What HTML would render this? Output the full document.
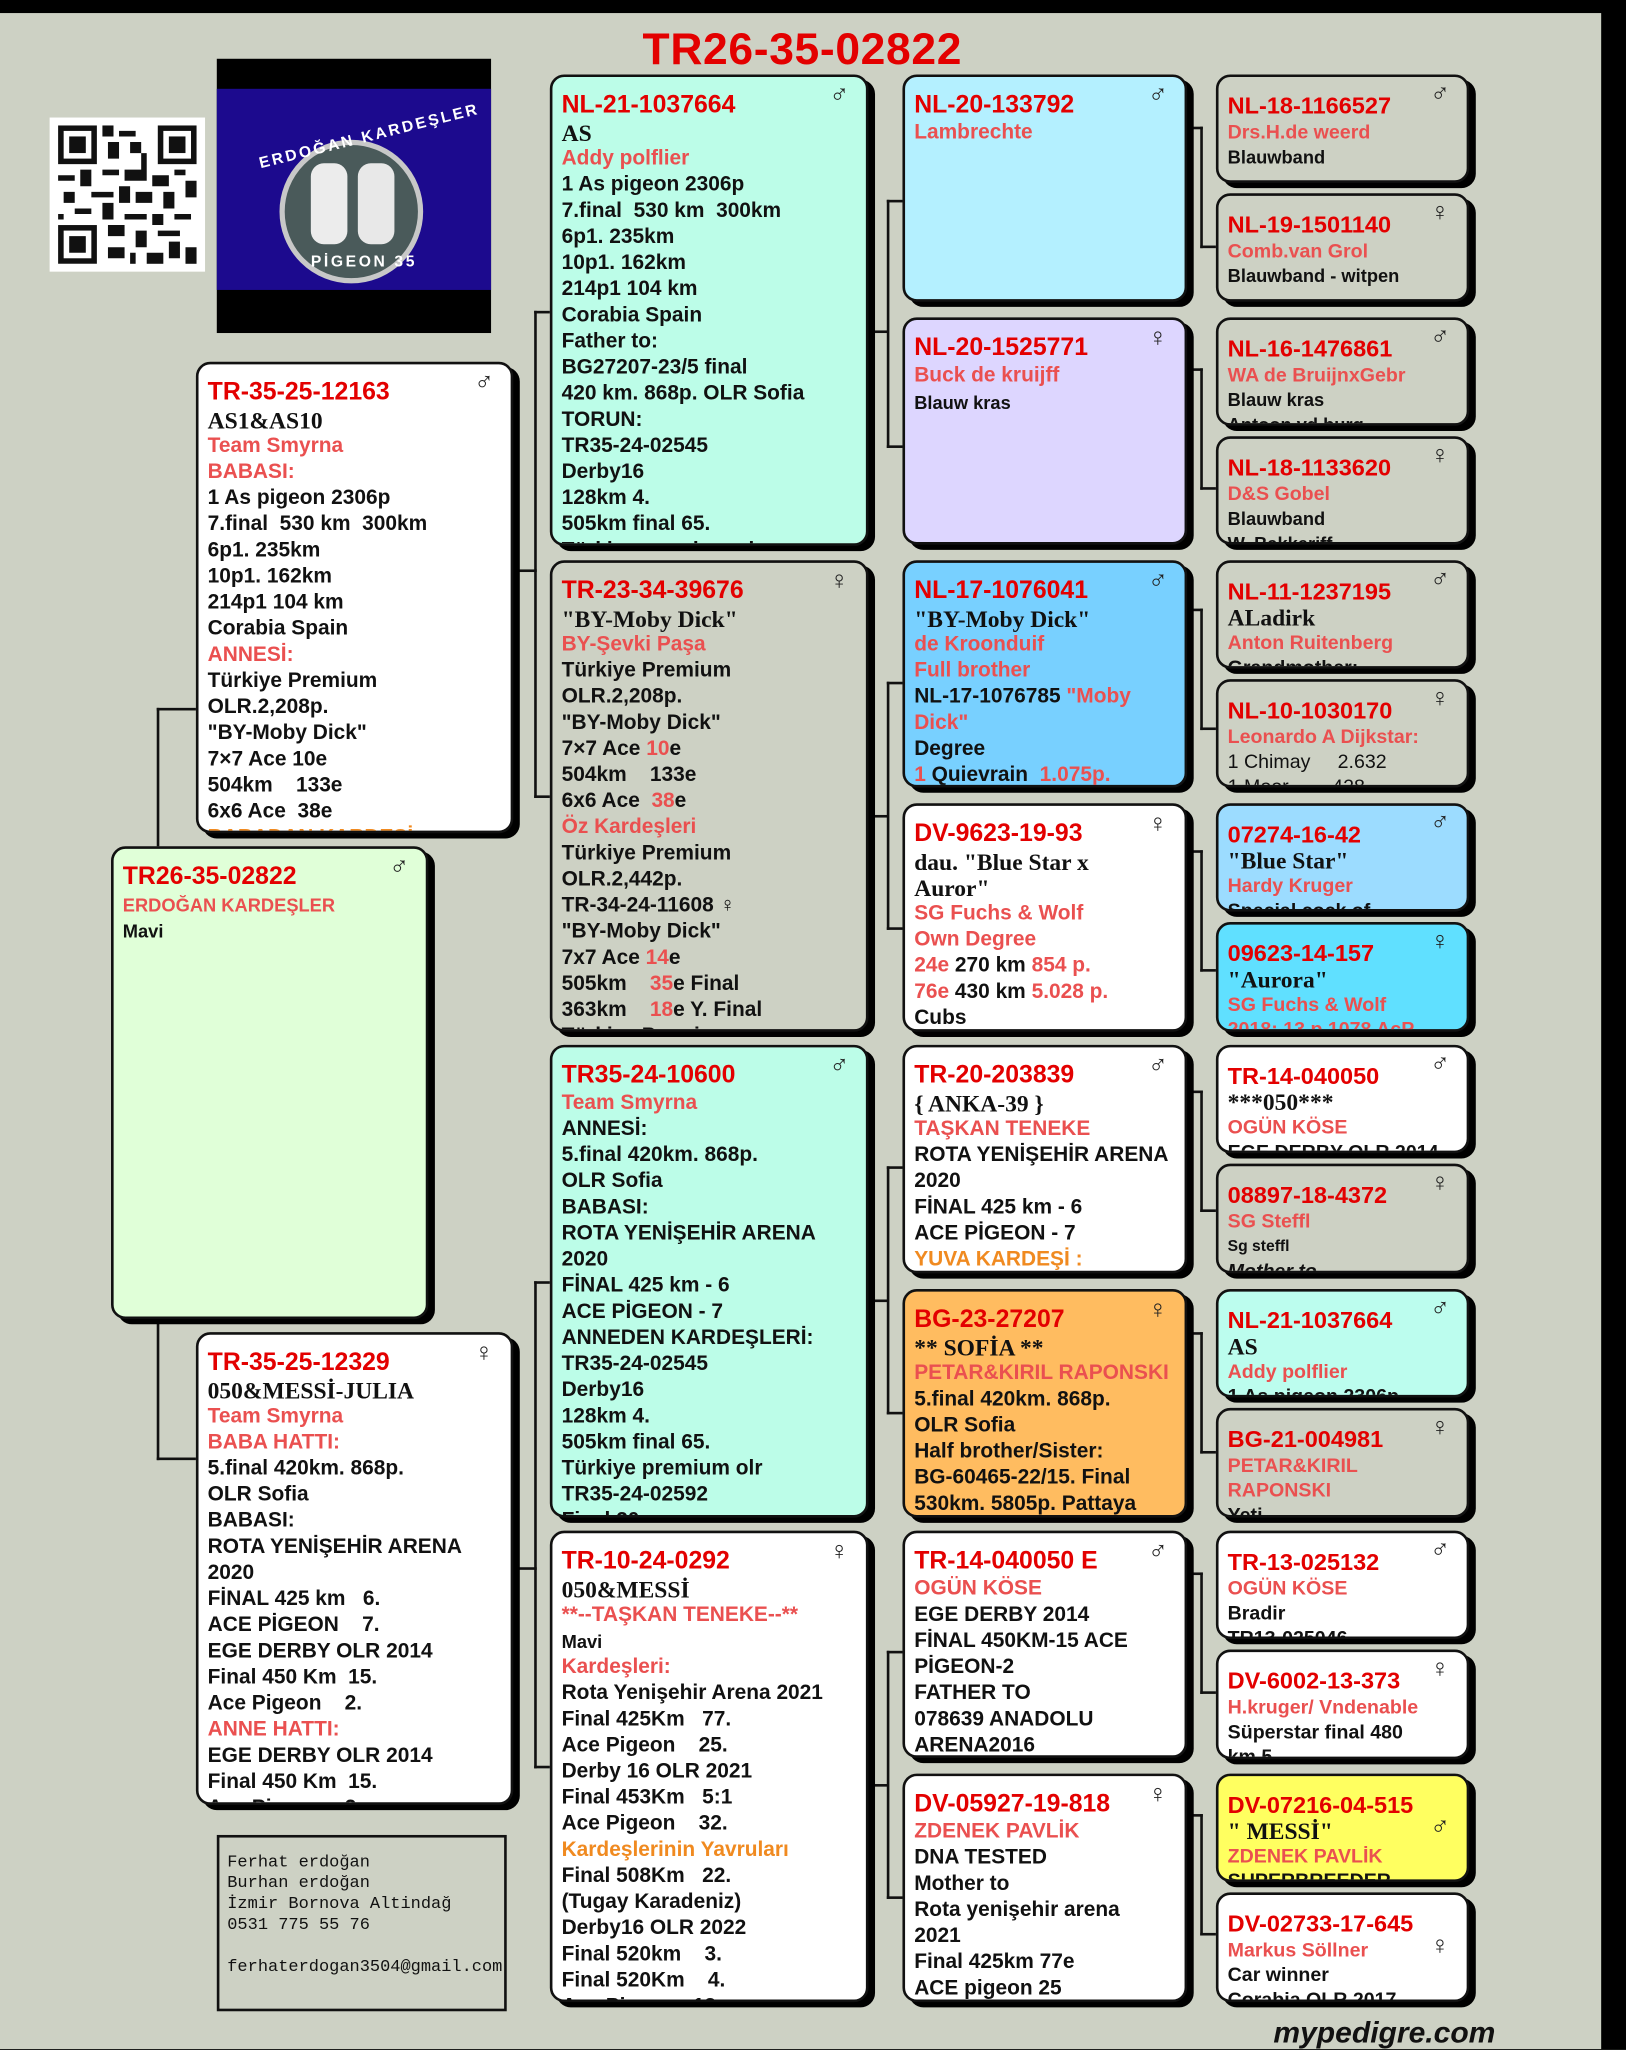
<!DOCTYPE html>
<html><head><meta charset="utf-8"><style>
*{margin:0;padding:0;box-sizing:border-box}
html,body{width:1626px;height:2048px;overflow:hidden;background:#000}
#w{position:absolute;left:0;top:0;width:1245px;height:1569px;transform:scale(1.30602);transform-origin:0 0;background:#cdd1c4;font-family:"Liberation Sans","DejaVu Sans",sans-serif;font-weight:bold;color:#111}
.topbar{position:absolute;left:0;top:0;width:1245px;height:10px;background:#000}
.rbar{position:absolute;left:1226px;top:0;width:19px;height:1569px;background:#000}
.b{position:absolute;border:2px solid #111;border-radius:11px;box-shadow:5px 4px 0 #000;overflow:hidden;padding:10px 6px 0 7px;font-size:16px;line-height:20px}
.b .id{color:#e30000;font-size:19px;line-height:22px;margin-top:1px}
.b .sx{position:absolute;right:13px;top:4px;font-size:20px;font-weight:normal;color:#222}
.r{color:#ea5050}
.o{color:#f08a20}
.s{font-family:"Liberation Serif","DejaVu Serif",serif;font-size:18px}
.sm{font-size:14px}
.g4{padding-right:14px}
.g5{font-size:15px;line-height:19px;padding-top:11px}
.g5 .id{font-size:18px;line-height:21px}
.ln{position:absolute;background:#111}
</style></head><body><div id="w">
<div class="topbar"></div><div class="rbar"></div>

<div style="position:absolute;left:492px;top:19px;font-size:34px;color:#e30000;letter-spacing:0.5px">TR26-35-02822</div>

<!-- QR -->
<div style="position:absolute;left:38px;top:90px;width:119px;height:118px;background:#fff;padding:6px">
<svg width="107" height="106" viewBox="0 0 25 25">
<rect width="25" height="25" fill="#fff"/>
<g fill="#111">
<rect x="0" y="0" width="7" height="7"/><rect x="1" y="1" width="5" height="5" fill="#fff"/><rect x="2" y="2" width="3" height="3"/>
<rect x="18" y="0" width="7" height="7"/><rect x="19" y="1" width="5" height="5" fill="#fff"/><rect x="20" y="2" width="3" height="3"/>
<rect x="0" y="18" width="7" height="7"/><rect x="1" y="19" width="5" height="5" fill="#fff"/><rect x="2" y="20" width="3" height="3"/>
<path d="M8 0h2v2h-2zM11 1h3v1h-3zM9 3h2v3h-2zM13 3h2v2h-2zM15 5h1v3h-1zM8 8h3v1h-3zM12 8h4v2h-4zM0 9h3v1h-3zM4 8h2v3h-2zM17 9h3v2h-3zM21 8h2v1h-2zM23 10h2v3h-2zM1 12h2v2h-2zM6 12h4v1h-4zM11 11h2v3h-2zM14 12h3v2h-3zM19 12h2v3h-2zM3 15h3v1h-3zM8 14h2v3h-2zM12 16h4v1h-4zM17 16h2v2h-2zM21 16h3v1h-3zM9 18h3v2h-3zM14 19h2v3h-2zM18 19h4v1h-4zM20 21h2v3h-2zM23 22h2v3h-2zM9 22h3v2h-3zM16 23h3v2h-3zM13 23h1v2h-1zM0 16h1v1h-1z"/>
</g></svg></div>

<!-- logo -->
<div style="position:absolute;left:166px;top:45px;width:210px;height:210px;background:#000">
<div style="position:absolute;left:0;top:23px;width:210px;height:154px;background:#1c0a8e"></div>
<div style="position:absolute;left:48px;top:62px;width:110px;height:110px;border-radius:50%;background:#4a5a5a;border:4px solid #c8c8c8"></div>
<div style="position:absolute;left:72px;top:80px;width:28px;height:62px;border-radius:10px;background:#ececec"></div>
<div style="position:absolute;left:108px;top:80px;width:28px;height:62px;border-radius:10px;background:#e8e8e8"></div>
<div style="position:absolute;left:30px;top:52px;color:#fff;font-size:12px;letter-spacing:2px;transform:rotate(-14deg)">ERDOĞAN KARDEŞLER</div>
<div style="position:absolute;left:72px;top:148px;color:#fff;font-size:12px;letter-spacing:2px">PİGEON 35</div>
</div>

<!-- connectors -->
<div class="ln" style="left:120px;top:542px;width:2px;height:106px"></div>
<div class="ln" style="left:120px;top:542px;width:30px;height:2px"></div>
<div class="ln" style="left:120px;top:1010px;width:2px;height:108px"></div>
<div class="ln" style="left:120px;top:1116px;width:30px;height:2px"></div>

<div class="ln" style="left:394px;top:436px;width:17px;height:2px"></div>
<div class="ln" style="left:409px;top:238px;width:2px;height:373px"></div>
<div class="ln" style="left:409px;top:238px;width:12px;height:2px"></div>
<div class="ln" style="left:409px;top:609px;width:12px;height:2px"></div>
<div class="ln" style="left:394px;top:1200px;width:17px;height:2px"></div>
<div class="ln" style="left:409px;top:981px;width:2px;height:373px"></div>
<div class="ln" style="left:409px;top:981px;width:12px;height:2px"></div>
<div class="ln" style="left:409px;top:1352px;width:12px;height:2px"></div>

<div class="ln" style="left:666px;top:253px;width:14px;height:2px"></div>
<div class="ln" style="left:679px;top:153px;width:2px;height:190px"></div>
<div class="ln" style="left:679px;top:153px;width:12px;height:2px"></div>
<div class="ln" style="left:679px;top:341px;width:12px;height:2px"></div>
<div class="ln" style="left:666px;top:624px;width:14px;height:2px"></div>
<div class="ln" style="left:679px;top:522px;width:2px;height:190px"></div>
<div class="ln" style="left:679px;top:522px;width:12px;height:2px"></div>
<div class="ln" style="left:679px;top:710px;width:12px;height:2px"></div>
<div class="ln" style="left:666px;top:995px;width:14px;height:2px"></div>
<div class="ln" style="left:679px;top:893px;width:2px;height:190px"></div>
<div class="ln" style="left:679px;top:893px;width:12px;height:2px"></div>
<div class="ln" style="left:679px;top:1081px;width:12px;height:2px"></div>
<div class="ln" style="left:666px;top:1366px;width:14px;height:2px"></div>
<div class="ln" style="left:679px;top:1264px;width:2px;height:190px"></div>
<div class="ln" style="left:679px;top:1264px;width:12px;height:2px"></div>
<div class="ln" style="left:679px;top:1452px;width:12px;height:2px"></div>

<div class="ln" style="left:909px;top:97px;width:12px;height:2px"></div><div class="ln" style="left:919px;top:97px;width:2px;height:93px"></div><div class="ln" style="left:919px;top:188px;width:12px;height:2px"></div>
<div class="ln" style="left:909px;top:282px;width:12px;height:2px"></div><div class="ln" style="left:919px;top:282px;width:2px;height:93px"></div><div class="ln" style="left:919px;top:373px;width:12px;height:2px"></div>
<div class="ln" style="left:909px;top:466px;width:12px;height:2px"></div><div class="ln" style="left:919px;top:466px;width:2px;height:93px"></div><div class="ln" style="left:919px;top:557px;width:12px;height:2px"></div>
<div class="ln" style="left:909px;top:651px;width:12px;height:2px"></div><div class="ln" style="left:919px;top:651px;width:2px;height:93px"></div><div class="ln" style="left:919px;top:742px;width:12px;height:2px"></div>
<div class="ln" style="left:909px;top:835px;width:12px;height:2px"></div><div class="ln" style="left:919px;top:835px;width:2px;height:93px"></div><div class="ln" style="left:919px;top:926px;width:12px;height:2px"></div>
<div class="ln" style="left:909px;top:1020px;width:12px;height:2px"></div><div class="ln" style="left:919px;top:1020px;width:2px;height:93px"></div><div class="ln" style="left:919px;top:1111px;width:12px;height:2px"></div>
<div class="ln" style="left:909px;top:1204px;width:12px;height:2px"></div><div class="ln" style="left:919px;top:1204px;width:2px;height:93px"></div><div class="ln" style="left:919px;top:1295px;width:12px;height:2px"></div>
<div class="ln" style="left:909px;top:1389px;width:12px;height:2px"></div><div class="ln" style="left:919px;top:1389px;width:2px;height:93px"></div><div class="ln" style="left:919px;top:1480px;width:12px;height:2px"></div>

<!-- gen1 -->
<div class="b" style="left:85px;top:648px;width:243px;height:362px;background:#e0ffd8">
<div class="sx">♂</div><div class="id">TR26-35-02822</div><div class="r sm">ERDOĞAN KARDEŞLER</div><div class="sm">Mavi</div></div>

<!-- gen2 -->
<div class="b" style="left:150px;top:277px;width:243px;height:361px;background:#fff">
<div class="sx">♂</div><div class="id">TR-35-25-12163</div><div class="s">AS1&amp;AS10</div><div class="r">Team Smyrna</div><div class="r">BABASI:</div>
<div>1 As pigeon 2306p</div><div>7.final&nbsp; 530 km&nbsp; 300km</div><div>6p1. 235km</div><div>10p1. 162km</div><div>214p1 104 km</div><div>Corabia Spain</div><div class="r">ANNESİ:</div><div>Türkiye Premium</div><div>OLR.2,208p.</div><div>"BY-Moby Dick"</div><div>7×7 Ace 10e</div><div>504km&nbsp;&nbsp;&nbsp; 133e</div><div>6x6 Ace&nbsp; 38e</div><div class="o">BABADAN KARDEŞİ</div></div>

<div class="b" style="left:150px;top:1020px;width:243px;height:362px;background:#fff">
<div class="sx">♀</div><div class="id">TR-35-25-12329</div><div class="s">050&amp;MESSİ-JULIA</div><div class="r">Team Smyrna</div><div class="r">BABA HATTI:</div>
<div>5.final 420km. 868p.</div><div>OLR Sofia</div><div>BABASI:</div><div>ROTA YENİŞEHİR ARENA</div><div>2020</div><div>FİNAL 425 km&nbsp;&nbsp; 6.</div><div>ACE PİGEON&nbsp;&nbsp;&nbsp; 7.</div><div>EGE DERBY OLR 2014</div><div>Final 450 Km&nbsp; 15.</div><div>Ace Pigeon&nbsp;&nbsp;&nbsp; 2.</div><div class="r">ANNE HATTI:</div><div>EGE DERBY OLR 2014</div><div>Final 450 Km&nbsp; 15.</div><div>Ace Pigeon&nbsp;&nbsp;&nbsp; 2.</div></div>

<!-- contact -->
<div style="position:absolute;left:166px;top:1405px;width:222px;height:135px;border:2px solid #111;font-family:'Liberation Mono','DejaVu Sans Mono',monospace;font-weight:normal;font-size:13px;line-height:16px;padding:11px 6px">Ferhat erdoğan<br>Burhan erdoğan<br>İzmir Bornova Altindağ<br>0531 775 55 76<br><br>ferhaterdogan3504@gmail.com</div>

<!-- gen3 -->
<div class="b" style="left:421px;top:57px;width:244px;height:361px;background:#bcfde8">
<div class="sx">♂</div><div class="id">NL-21-1037664</div><div class="s">AS</div><div class="r">Addy polflier</div>
<div>1 As pigeon 2306p</div><div>7.final&nbsp; 530 km&nbsp; 300km</div><div>6p1. 235km</div><div>10p1. 162km</div><div>214p1 104 km</div><div>Corabia Spain</div><div>Father to:</div><div>BG27207-23/5 final</div><div>420 km. 868p. OLR Sofia</div><div>TORUN:</div><div>TR35-24-02545</div><div>Derby16</div><div>128km 4.</div><div>505km final 65.</div><div>Türkiye premium olr</div></div>

<div class="b" style="left:421px;top:429px;width:244px;height:361px;background:#cdd1c4">
<div class="sx">♀</div><div class="id">TR-23-34-39676</div><div class="s">"BY-Moby Dick"</div><div class="r">BY-Şevki Paşa</div>
<div>Türkiye Premium</div><div>OLR.2,208p.</div><div>"BY-Moby Dick"</div><div>7×7 Ace <span class="r">10</span>e</div><div>504km&nbsp;&nbsp;&nbsp; 133e</div><div>6x6 Ace&nbsp; <span class="r">38</span>e</div><div class="r">Öz Kardeşleri</div><div>Türkiye Premium</div><div>OLR.2,442p.</div><div>TR-34-24-11608 ♀</div><div>"BY-Moby Dick"</div><div>7x7 Ace <span class="r">14</span>e</div><div>505km&nbsp;&nbsp;&nbsp; <span class="r">35</span>e Final</div><div>363km&nbsp;&nbsp;&nbsp; <span class="r">18</span>e Y. Final</div><div>Türkiye Premium</div></div>

<div class="b" style="left:421px;top:800px;width:244px;height:362px;background:#bcfde8">
<div class="sx">♂</div><div class="id">TR35-24-10600</div><div class="r">Team Smyrna</div>
<div>ANNESİ:</div><div>5.final 420km. 868p.</div><div>OLR Sofia</div><div>BABASI:</div><div>ROTA YENİŞEHİR ARENA</div><div>2020</div><div>FİNAL 425 km - 6</div><div>ACE PİGEON - 7</div><div>ANNEDEN KARDEŞLERİ:</div><div>TR35-24-02545</div><div>Derby16</div><div>128km 4.</div><div>505km final 65.</div><div>Türkiye premium olr</div><div>TR35-24-02592</div><div>Final 20</div></div>

<div class="b" style="left:421px;top:1172px;width:244px;height:361px;background:#fff">
<div class="sx">♀</div><div class="id">TR-10-24-0292</div><div class="s">050&amp;MESSİ</div><div class="r">**--TAŞKAN TENEKE--**</div><div class="sm">Mavi</div><div class="r">Kardeşleri:</div>
<div>Rota Yenişehir Arena 2021</div><div>Final 425Km&nbsp;&nbsp; 77.</div><div>Ace Pigeon&nbsp;&nbsp;&nbsp; 25.</div><div>Derby 16 OLR 2021</div><div>Final 453Km&nbsp;&nbsp; 5:1</div><div>Ace Pigeon&nbsp;&nbsp;&nbsp; 32.</div><div class="o">Kardeşlerinin Yavruları</div><div>Final 508Km&nbsp;&nbsp; 22.</div><div>(Tugay Karadeniz)</div><div>Derby16 OLR 2022</div><div>Final 520km&nbsp;&nbsp;&nbsp; 3.</div><div>Final 520Km&nbsp;&nbsp;&nbsp; 4.</div><div>Ace Pigeon&nbsp;&nbsp; 13.</div></div>

<!-- gen4 -->
<div class="b g4" style="left:691px;top:57px;width:218px;height:174px;background:#b4f0ff">
<div class="sx">♂</div><div class="id">NL-20-133792</div><div class="r">Lambrechte</div></div>
<div class="b g4" style="left:691px;top:243px;width:218px;height:174px;background:#ddd6ff">
<div class="sx">♀</div><div class="id">NL-20-1525771</div><div class="r">Buck de kruijff</div><div class="sm">Blauw kras</div></div>
<div class="b g4" style="left:691px;top:429px;width:218px;height:174px;background:#78d0ff">
<div class="sx">♂</div><div class="id">NL-17-1076041</div><div class="s">"BY-Moby Dick"</div><div class="r">de Kroonduif</div><div class="r">Full brother</div><div>NL-17-1076785 <span class="r">"Moby Dick"</span></div><div>Degree</div><div><span class="r">1</span> Quievrain&nbsp; <span class="r">1.075p.</span></div></div>
<div class="b g4" style="left:691px;top:615px;width:218px;height:175px;background:#fff">
<div class="sx">♀</div><div class="id">DV-9623-19-93</div><div class="s" style="line-height:20px">dau. "Blue Star x Auror"</div><div class="r">SG Fuchs &amp; Wolf</div><div class="r">Own Degree</div><div><span class="r">24e</span> 270 km <span class="r">854 p.</span></div><div><span class="r">76e</span> 430 km <span class="r">5.028 p.</span></div><div>Cubs</div></div>
<div class="b g4" style="left:691px;top:800px;width:218px;height:175px;background:#fff">
<div class="sx">♂</div><div class="id">TR-20-203839</div><div class="s">{ ANKA-39 }</div><div class="r">TAŞKAN TENEKE</div><div style="margin-right:-10px">ROTA YENİŞEHİR ARENA</div><div>2020</div><div>FİNAL 425 km - 6</div><div>ACE PİGEON - 7</div><div class="o">YUVA KARDEŞİ :</div></div>
<div class="b g4" style="left:691px;top:987px;width:218px;height:175px;background:#ffbc60">
<div class="sx">♀</div><div class="id">BG-23-27207</div><div class="s">** SOFİA **</div><div class="r" style="margin-right:-10px">PETAR&amp;KIRIL RAPONSKI</div><div>5.final 420km. 868p.</div><div>OLR Sofia</div><div>Half brother/Sister:</div><div style="margin-right:-10px">BG-60465-22/15. Final</div><div style="margin-right:-10px">530km. 5805p. Pattaya</div></div>
<div class="b g4" style="left:691px;top:1172px;width:218px;height:174px;background:#fff">
<div class="sx">♂</div><div class="id">TR-14-040050 E</div><div class="r">OGÜN KÖSE</div><div>EGE DERBY 2014</div><div>FİNAL 450KM-15 ACE PİGEON-2</div><div>FATHER TO</div><div>078639 ANADOLU ARENA2016</div></div>
<div class="b g4" style="left:691px;top:1358px;width:218px;height:175px;background:#fff">
<div class="sx">♀</div><div class="id">DV-05927-19-818</div><div class="r">ZDENEK PAVLİK</div><div>DNA TESTED</div><div>Mother to</div><div>Rota yenişehir arena 2021</div><div>Final 425km 77e</div><div>ACE pigeon 25</div></div>

<!-- gen5 -->
<div class="b g5" style="left:931px;top:57px;width:194px;height:83px;background:#cdd1c4"><div class="sx">♂</div><div class="id">NL-18-1166527</div><div class="r">Drs.H.de weerd</div><div class="sm">Blauwband</div></div>
<div class="b g5" style="left:931px;top:148px;width:194px;height:83px;background:#cdd1c4"><div class="sx">♀</div><div class="id">NL-19-1501140</div><div class="r">Comb.van Grol</div><div class="sm">Blauwband - witpen</div></div>
<div class="b g5" style="left:931px;top:243px;width:194px;height:83px;background:#cdd1c4"><div class="sx">♂</div><div class="id">NL-16-1476861</div><div class="r">WA de BruijnxGebr</div><div class="sm">Blauw kras</div><div class="sm">Antoon vd burg</div></div>
<div class="b g5" style="left:931px;top:334px;width:194px;height:83px;background:#cdd1c4"><div class="sx">♀</div><div class="id">NL-18-1133620</div><div class="r">D&amp;S Gobel</div><div class="sm">Blauwband</div><div class="sm">W. Bakkeriff</div></div>
<div class="b g5" style="left:931px;top:429px;width:194px;height:83px;background:#cdd1c4"><div class="sx">♂</div><div class="id">NL-11-1237195</div><div class="s">ALadirk</div><div class="r">Anton Ruitenberg</div><div>Grandmother:</div></div>
<div class="b g5" style="left:931px;top:520px;width:194px;height:83px;background:#cdd1c4"><div class="sx">♀</div><div class="id">NL-10-1030170</div><div class="r">Leonardo A Dijkstar:</div><div style="font-weight:normal">1 Chimay&nbsp;&nbsp;&nbsp;&nbsp; 2.632</div><div style="font-weight:normal">1 Moor&nbsp;&nbsp;&nbsp;&nbsp;&nbsp;&nbsp;&nbsp; 428</div></div>
<div class="b g5" style="left:931px;top:615px;width:194px;height:83px;background:#9cdcff"><div class="sx">♂</div><div class="id">07274-16-42</div><div class="s">"Blue Star"</div><div class="r">Hardy Kruger</div><div>Special cock of</div></div>
<div class="b g5" style="left:931px;top:706px;width:194px;height:84px;background:#60e0ff"><div class="sx">♀</div><div class="id">09623-14-157</div><div class="s">"Aurora"</div><div class="r">SG Fuchs &amp; Wolf</div><div class="r">2018: 13 p 1078 AcP</div></div>
<div class="b g5" style="left:931px;top:800px;width:194px;height:83px;background:#fff"><div class="sx">♂</div><div class="id">TR-14-040050</div><div class="s">***050***</div><div class="r">OGÜN KÖSE</div><div>EGE DERBY OLR 2014</div></div>
<div class="b g5" style="left:931px;top:891px;width:194px;height:84px;background:#cdd1c4"><div class="sx">♀</div><div class="id">08897-18-4372</div><div class="r">SG Steffl</div><div style="font-size:12px">Sg steffl</div><div style="font-style:italic">Mother to</div></div>
<div class="b g5" style="left:931px;top:987px;width:194px;height:83px;background:#bcfdee"><div class="sx">♂</div><div class="id">NL-21-1037664</div><div class="s">AS</div><div class="r">Addy polflier</div><div>1 As pigeon 2306p</div></div>
<div class="b g5" style="left:931px;top:1078px;width:194px;height:84px;background:#cdd1c4"><div class="sx">♀</div><div class="id">BG-21-004981</div><div class="r">PETAR&amp;KIRIL RAPONSKI</div><div>Yeti</div></div>
<div class="b g5" style="left:931px;top:1172px;width:194px;height:83px;background:#fff"><div class="sx">♂</div><div class="id">TR-13-025132</div><div class="r">OGÜN KÖSE</div><div>Bradir</div><div>TR13-025046</div></div>
<div class="b g5" style="left:931px;top:1263px;width:194px;height:84px;background:#fff"><div class="sx">♀</div><div class="id">DV-6002-13-373</div><div class="r">H.kruger/ Vndenable</div><div>Süperstar final 480</div><div>km 5</div></div>
<div class="b g5" style="left:931px;top:1358px;width:194px;height:83px;background:#ffff60"><div class="sx" style="top:30px">♂</div><div class="id">DV-07216-04-515</div><div class="s">" MESSİ"</div><div class="r">ZDENEK PAVLİK</div><div>SUPERBREEDER</div></div>
<div class="b g5" style="left:931px;top:1449px;width:194px;height:84px;background:#fff"><div class="sx" style="top:30px">♀</div><div class="id">DV-02733-17-645</div><div class="r">Markus Söllner</div><div>Car winner</div><div>Corabia OLR 2017</div></div>

<div style="position:absolute;left:975px;top:1543px;font-size:23px;font-style:italic;color:#111">mypedigre.com</div>
</div></body></html>
